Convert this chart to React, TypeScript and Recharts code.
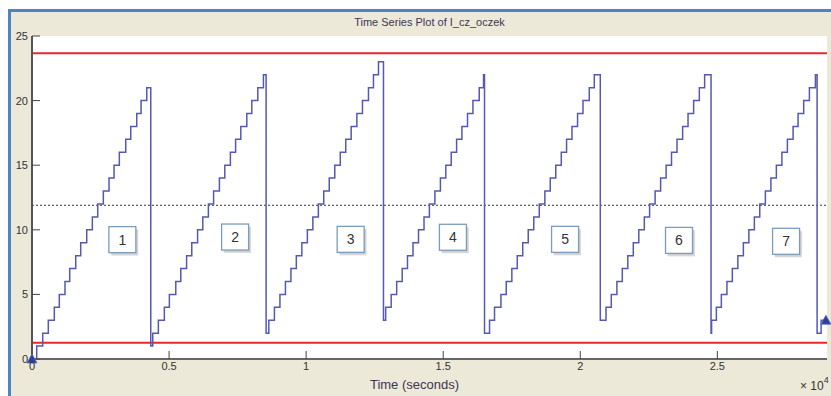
import React from 'react'
import { LineChart, Line, XAxis, YAxis, CartesianGrid, ReferenceLine, ReferenceDot } from 'recharts'

// step changes: [time (s), value]
const cycle1 = [[0, 0], [172, 1], [391, 2], [595, 3], [814, 4], [996, 5], [1204, 6], [1376, 7], [1595, 8], [1777, 9], [1996, 10], [2201, 11], [2398, 12], [2602, 13], [2810, 14], [2993, 15], [3186, 16], [3420, 17], [3602, 18], [3821, 19], [3978, 20], [4186, 21]]
const cycle2 = [[4332, 1], [4405, 2], [4609, 3], [4828, 4], [5011, 5], [5245, 6], [5427, 7], [5639, 8], [5828, 9], [6040, 10], [6230, 11], [6434, 12], [6624, 13], [6836, 14], [7033, 15], [7237, 16], [7427, 17], [7617, 18], [7836, 19], [8018, 20], [8237, 21], [8442, 22]]
const cycle3 = [[8540, 2], [8639, 3], [8843, 4], [9044, 5], [9245, 6], [9445, 7], [9642, 8], [9843, 9], [10044, 10], [10245, 11], [10445, 12], [10642, 13], [10843, 14], [11044, 15], [11245, 16], [11445, 17], [11642, 18], [11850, 19], [12055, 20], [12274, 21], [12456, 22], [12639, 23]]
const cycle4 = [[12821, 3], [12901, 4], [13102, 5], [13303, 6], [13504, 7], [13697, 8], [13898, 9], [14099, 10], [14300, 11], [14496, 12], [14697, 13], [14898, 14], [15095, 15], [15292, 16], [15489, 17], [15682, 18], [15887, 19], [16084, 20], [16314, 21], [16471, 22]]
const cycle5 = [[16507, 2], [16690, 3], [16872, 4], [17106, 5], [17299, 6], [17504, 7], [17701, 8], [17901, 9], [18102, 10], [18303, 11], [18504, 12], [18708, 13], [18905, 14], [19106, 15], [19307, 16], [19500, 17], [19697, 18], [19901, 19], [20099, 20], [20328, 21], [20511, 22]]
const cycle6 = [[20730, 3], [20938, 4], [21131, 5], [21336, 6], [21533, 7], [21734, 8], [21934, 9], [22135, 10], [22336, 11], [22529, 12], [22730, 13], [22931, 14], [23131, 15], [23328, 16], [23529, 17], [23734, 18], [23931, 19], [24135, 20], [24343, 21], [24536, 22]]
const cycle7 = [[24770, 2], [24790, 3], [24964, 4], [25146, 5], [25350, 6], [25547, 7], [25748, 8], [25949, 9], [26150, 10], [26350, 11], [26547, 12], [26752, 13], [26953, 14], [27153, 15], [27354, 16], [27555, 17], [27763, 18], [27945, 19], [28150, 20], [28358, 21], [28577, 22]]
const tail = [[28639, 2], [28785, 3], [28960, 3]]

const UCL = 23.67
const CENTER = 11.9
const LCL = 1.26

const xTicks = [0, 5000, 10000, 15000, 20000, 25000]
const yTicks = [0, 5, 10, 15, 20, 25]

// numbered boxes
const boxLabels = ['1', '2', '3', '4', '5', '6', '7']
const boxT = [3296, 7409, 11624, 15354, 19445, 23602, 27507]
const boxV = [9.24, 9.44, 9.26, 9.42, 9.26, 9.18, 9.11]

const data = [cycle1, cycle2, cycle3, cycle4, cycle5, cycle6, cycle7, tail]
    .flat()
    .map(([t, v]) => ({ t, v }))

const first = data[0]
const last = data[data.length - 1]

const TXT = '#3d3553'
const FONT = '"Liberation Sans", Arial, sans-serif'

function Triangle(props: any) {
    const { cx, cy } = props
    return (
        <polygon
            points={`${cx - 5},${cy + 4} ${cx + 5},${cy + 4} ${cx},${cy - 5}`}
            fill="#2b3f9b"
            stroke="#5a6cc0"
            strokeWidth={0.8}
        />
    )
}

function Box(label: string) {
    return (props: any) => {
        const { cx, cy } = props
        return (
            <g>
                <rect x={cx - 11} y={cy - 10} width={27} height={26} fill="#9a9a9a" opacity={0.35} />
                <rect x={cx - 12} y={cy - 11} width={27} height={26} fill="#aaa" opacity={0.25} />
                <rect x={cx - 13.5} y={cy - 13} width={27} height={26} fill="#fff" stroke="#7d9cbd" strokeWidth={1.3} />
                <text x={cx} y={cy + 5} textAnchor="middle" fontSize={14} fontFamily={FONT} fill="#333">
                    {label}
                </text>
            </g>
        )
    }
}

export default function App() {
    return (
        <div style={{ position: 'relative', width: 831, height: 396, background: '#fff', overflow: 'hidden', fontFamily: FONT }}>
            <style>{'body{margin:0}'}</style>
            <div
                style={{
                    position: 'absolute',
                    left: 8,
                    top: 9,
                    right: 0,
                    bottom: 0,
                    background: '#ECE9D8',
                    borderLeft: '3px solid #4d84c4',
                    borderTop: '3px solid #4d84c4',
                }}
            />
            <div style={{ position: 'absolute', left: 0, top: 16, width: 859, textAlign: 'center', fontSize: 11, color: TXT }}>
                Time Series Plot of I_cz_oczek
            </div>
            <div style={{ position: 'absolute', left: 0, top: 377, width: 829, textAlign: 'center', fontSize: 13, color: TXT }}>
                Time (seconds)
            </div>
            <div style={{ position: 'absolute', left: 800, top: 379, fontSize: 12, lineHeight: '14px', color: '#333' }}>
                × 10<span style={{ position: 'relative', top: -7, fontSize: 9 }}>4</span>
            </div>
            <div style={{ position: 'absolute', left: 0, top: 0 }}>
                <LineChart width={831} height={396} data={data} margin={{ top: 36, right: 4, bottom: 0, left: 0 }}>
                    <CartesianGrid horizontal={false} vertical={false} fill="#fff" />
                    <XAxis
                        dataKey="t"
                        type="number"
                        domain={[0, 29000]}
                        ticks={xTicks}
                        allowDataOverflow
                        height={37}
                        tickSize={-8}
                        tickMargin={11}
                        tickFormatter={(t: number) => String(t / 10000)}
                        tick={{ fontSize: 11, fill: '#333', fontFamily: FONT }}
                        axisLine={{ stroke: '#666', strokeWidth: 2 }}
                        tickLine={{ stroke: '#444' }}
                    />
                    <XAxis
                        xAxisId="top"
                        orientation="top"
                        type="number"
                        domain={[0, 29000]}
                        ticks={xTicks}
                        height={0}
                        tickSize={-8}
                        tick={false}
                        axisLine={{ stroke: '#555', strokeWidth: 2 }}
                        tickLine={{ stroke: '#444' }}
                    />
                    <YAxis
                        type="number"
                        domain={[0, 25]}
                        ticks={yTicks}
                        width={32}
                        tickSize={-8}
                        tickMargin={12}
                        tick={{ fontSize: 11, fill: '#333', fontFamily: FONT }}
                        axisLine={{ stroke: '#555', strokeWidth: 2 }}
                        tickLine={{ stroke: '#444' }}
                    />
                    <YAxis
                        yAxisId="right"
                        orientation="right"
                        type="number"
                        domain={[0, 25]}
                        ticks={yTicks}
                        width={0}
                        tickSize={-8}
                        tick={false}
                        axisLine={{ stroke: '#888', strokeWidth: 2 }}
                        tickLine={{ stroke: '#444' }}
                    />
                    <ReferenceLine y={UCL} stroke="#e8262d" strokeWidth={2} />
                    <ReferenceLine y={LCL} stroke="#e8262d" strokeWidth={2} />
                    <ReferenceLine y={CENTER} stroke="#333" strokeWidth={1} strokeDasharray="2 2" />
                    <Line
                        type="stepAfter"
                        dataKey="v"
                        stroke="#5459b3"
                        strokeWidth={1.5}
                        dot={false}
                        isAnimationActive={false}
                    />
                    {boxLabels.map((label, i) => (
                        <ReferenceDot key={label} x={boxT[i]} y={boxV[i]} r={0} ifOverflow="visible" shape={Box(label)} />
                    ))}
                    <ReferenceDot x={first.t} y={first.v} ifOverflow="visible" shape={Triangle} />
                    <ReferenceDot x={last.t} y={last.v} ifOverflow="visible" shape={Triangle} />
                </LineChart>
            </div>
        </div>
    )
}
